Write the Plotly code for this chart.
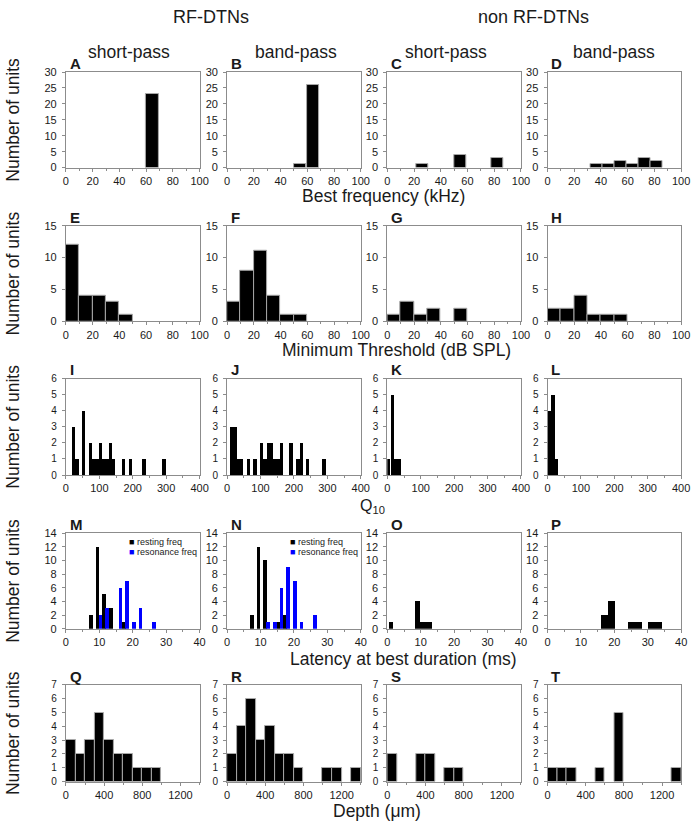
import plotly.graph_objects as go

# ---------------- data ----------------
# Row 1: Best frequency (kHz)
A_x = [64.7]; A_y = [23]
B_x = [54.8, 64.3]; B_y = [1, 26]
C_x = [26.5, 54.5, 82]; C_y = [1, 4, 3]
D_x = [36.5, 45.5, 54.5, 63.5, 72.5, 81.5]; D_y = [1, 1, 2, 1, 3, 2]

# Row 2: Minimum threshold (dB SPL)
E_x = [5, 15, 25, 35, 45]; E_y = [12, 4, 4, 3, 1]
F_x = [5, 15, 25, 35, 45, 55]; F_y = [3, 8, 11, 4, 1, 1]
G_x = [5, 15, 25, 35, 55]; G_y = [1, 3, 1, 2, 2]
H_x = [5, 15, 25, 35, 45, 55]; H_y = [2, 2, 4, 1, 1, 1]

# Row 3: Q10
I_x = [23, 33, 53, 73, 83, 93, 103, 113, 123, 133, 143, 173, 193, 233, 293]
I_y = [3, 1, 4, 2, 1, 1, 2, 1, 1, 2, 1, 1, 1, 1, 1]
J_x = [14, 24, 34, 44, 65, 84, 104, 114, 124, 134, 144, 154, 163, 192, 212, 222, 241, 290]
J_y = [3, 3, 1, 1, 1, 1, 2, 1, 2, 2, 1, 1, 2, 2, 1, 2, 1, 1]
K_x = [5, 16, 26, 36]; K_y = [1, 5, 1, 1]
L_x = [5, 15, 25]; L_y = [4, 5, 1]

# Row 4: Latency at best duration (ms)
M_rest_x = [8, 10, 12, 14, 18]; M_rest_y = [2, 12, 5, 3, 1]
M_res_x = [10, 12, 16, 18, 20, 22, 26]; M_res_y = [2, 3, 6, 7, 1, 3, 1]
N_rest_x = [8, 10, 12, 16, 18]; N_rest_y = [2, 12, 10, 1, 2]
N_res_x = [12, 14, 16, 18, 20, 22, 26]; N_res_y = [1, 1, 6, 9, 7, 1, 2]
O_x = [1.2, 9.1, 10.35, 11.65, 12.95]; O_y = [1, 4, 1, 1, 1]
P_x = [17, 19, 25, 27, 31, 33]; P_y = [2, 4, 1, 1, 1, 1]

# Row 5: Depth (um)
Q_x = [50, 150, 250, 350, 450, 550, 650, 750, 850, 950]; Q_y = [3, 2, 3, 5, 3, 2, 2, 1, 1, 1]
R_x = [50, 150, 250, 350, 450, 550, 650, 750, 1050, 1150, 1350]; R_y = [2, 4, 6, 3, 4, 2, 2, 1, 1, 1, 1]
S_x = [50, 350, 450, 650, 750]; S_y = [2, 2, 2, 1, 1]
T_x = [50, 150, 250, 550, 750, 1350]; T_y = [1, 1, 1, 1, 5, 1]

letters = list("ABCDEFGHIJKLMNOPQRST")
col_titles = ["short-pass", "band-pass", "short-pass", "band-pass"]
group_titles = ["RF-DTNs", "non RF-DTNs"]
row_titles = ["Best frequency (kHz)", "Minimum Threshold (dB SPL)", "Q<sub>10</sub>",
              "Latency at best duration (ms)", "Depth (\u03bcm)"]
ylab = "Number of units"
legend_names = ["resting freq", "resonance freq"]

# ---------------- layout helpers ----------------
W, H = 700, 826
def px(x): return x / W
def py(y): return 1 - y / H

cols_px = [(64, 200), (228, 364), (391, 527), (554, 690)]
rows_px = [(67, 164), (223, 320), (378, 476), (535, 632), (689, 787)]

row_specs = [
    dict(xr=[0, 100], xd=20, xm=10, yr=[0, 30], yd=5, ytf=11),
    dict(xr=[0, 100], xd=20, xm=10, yr=[0, 15], yd=5, ytf=11),
    dict(xr=[0, 400], xd=100, xm=50, yr=[0, 6], yd=1, ytf=10),
    dict(xr=[0, 40], xd=10, xm=5, yr=[0, 14], yd=2, ytf=11),
    dict(xr=[0, 1400], xd=400, xm=200, yr=[0, 7], yd=1, ytf=10),
]

TXT = "#1a1a1a"
FRAME = "#8c8c8c"
EDGE = "#a8a8a8"

fig = go.Figure()

def ax(i):
    return ("x" if i == 0 else f"x{i+1}"), ("y" if i == 0 else f"y{i+1}")

def add_bar(i, x, y, width, color="black", edge=1.0, offset=None):
    xa, ya = ax(i)
    kw = dict(x=x, y=y, width=width, xaxis=xa, yaxis=ya,
              marker=dict(color=color, line=dict(color=EDGE, width=edge)),
              hoverinfo="x+y")
    if offset is not None:
        kw["offset"] = offset
    fig.add_trace(go.Bar(**kw))

# Row 1
add_bar(0, A_x, A_y, 9); add_bar(1, B_x, B_y, 9); add_bar(2, C_x, C_y, 9); add_bar(3, D_x, D_y, 9)
# Row 2
add_bar(4, E_x, E_y, 10); add_bar(5, F_x, F_y, 10); add_bar(6, G_x, G_y, 10); add_bar(7, H_x, H_y, 10)
# Row 3
add_bar(8, I_x, I_y, 10, edge=0); add_bar(9, J_x, J_y, 10, edge=0)
add_bar(10, K_x, K_y, 10, edge=0); add_bar(11, L_x, L_y, 10, edge=0)
# Row 4
add_bar(12, M_rest_x, M_rest_y, 1.15, edge=0, offset=-1.15)
add_bar(12, M_res_x, M_res_y, 1.05, color="#0000ff", edge=0, offset=-0.2)
add_bar(13, N_rest_x, N_rest_y, 1.15, edge=0, offset=-1.15)
add_bar(13, N_res_x, N_res_y, 1.05, color="#0000ff", edge=0, offset=-0.2)
add_bar(14, O_x, O_y, 1.25, edge=0)
add_bar(15, P_x, P_y, 2, edge=0)
# Row 5
add_bar(16, Q_x, Q_y, 100); add_bar(17, R_x, R_y, 100); add_bar(18, S_x, S_y, 100); add_bar(19, T_x, T_y, 100)

layout = dict(width=W, height=H, margin=dict(l=0, r=0, t=0, b=0),
              paper_bgcolor="white", plot_bgcolor="white", showlegend=False,
              barmode="overlay", bargap=0,
              font=dict(family="Liberation Sans, Arial, sans-serif", color=TXT, size=11))

annotations = []
for i in range(20):
    r, c = divmod(i, 4)
    spec = row_specs[r]
    x0, x1 = cols_px[c]
    y0, y1 = rows_px[r]
    xa, ya = ax(i)
    xkey = "xaxis" if i == 0 else f"xaxis{i+1}"
    ykey = "yaxis" if i == 0 else f"yaxis{i+1}"
    layout[xkey] = dict(domain=[px(x0), px(x1)], anchor=ya, range=spec["xr"],
                        tick0=0, dtick=spec["xd"], ticks="outside", ticklen=3,
                        tickcolor=FRAME, tickwidth=1,
                        minor=dict(ticks="outside", ticklen=2, dtick=spec["xm"], tickcolor=FRAME),
                        showline=True, linecolor=FRAME, linewidth=1, mirror=True,
                        showgrid=False, zeroline=False, fixedrange=True,
                        tickfont=dict(size=11, color=TXT))
    layout[ykey] = dict(domain=[py(y1), py(y0)], anchor=xa, range=spec["yr"],
                        tick0=0, dtick=spec["yd"], ticks="outside", ticklen=3,
                        tickcolor=FRAME, tickwidth=1, ticklabelstandoff=3,
                        showline=True, linecolor=FRAME, linewidth=1, mirror=True,
                        showgrid=False, zeroline=False, fixedrange=True,
                        tickfont=dict(size=spec["ytf"], color=TXT))
    annotations.append(dict(text=f"<b>{letters[i]}</b>", x=px(x0 + 2), y=py(y0 + 2),
                            xref="paper", yref="paper", xanchor="left", yanchor="bottom",
                            showarrow=False, font=dict(size=15, color=TXT)))

# Column headers
for t, xc in zip(group_titles, [212, 540]):
    annotations.append(dict(text=t, x=px(xc), y=py(11), xref="paper", yref="paper",
                            xanchor="center", yanchor="middle", showarrow=False,
                            font=dict(size=18, color=TXT)))
for t, xc in zip(col_titles, [128, 298, 451, 622]):
    annotations.append(dict(text=t, x=px(xc), y=py(47), xref="paper", yref="paper",
                            xanchor="center", yanchor="middle", showarrow=False,
                            font=dict(size=17.5, color=TXT)))

# X axis titles per row
title_pos = [(387, 193, 17.5), (400, 349, 17.5), (376, 508, 16), (407, 663, 17.5), (381, 817, 17.5)]
for t, (xc, yc, fs) in zip(row_titles, title_pos):
    annotations.append(dict(text=t, x=px(xc), y=py(yc), xref="paper", yref="paper",
                            xanchor="center", yanchor="middle", showarrow=False,
                            font=dict(size=fs, color=TXT)))

# Y labels
for (y0, y1) in rows_px:
    annotations.append(dict(text=ylab, x=px(10), y=py((y0 + y1) / 2), xref="paper", yref="paper",
                            xanchor="center", yanchor="middle", textangle=-90, showarrow=False,
                            font=dict(size=17.5, color=TXT)))

# Legends for M and N
for c in [0, 1]:
    x0 = cols_px[c][0]
    annotations.append(dict(text=f'<span style="color:#000000">\u25a0</span> {legend_names[0]}',
                            x=px(x0 + 62), y=py(544), xref="paper", yref="paper",
                            xanchor="left", yanchor="middle", showarrow=False,
                            font=dict(size=9, color=TXT)))
    annotations.append(dict(text=f'<span style="color:#0000ff">\u25a0</span> {legend_names[1]}',
                            x=px(x0 + 62), y=py(554), xref="paper", yref="paper",
                            xanchor="left", yanchor="middle", showarrow=False,
                            font=dict(size=9, color=TXT)))

layout["annotations"] = annotations
fig.update_layout(**layout)
fig.write_html("out.html", config={"displayModeBar": False},
               post_script="document.body.style.margin='0';document.body.style.overflow='hidden';")
